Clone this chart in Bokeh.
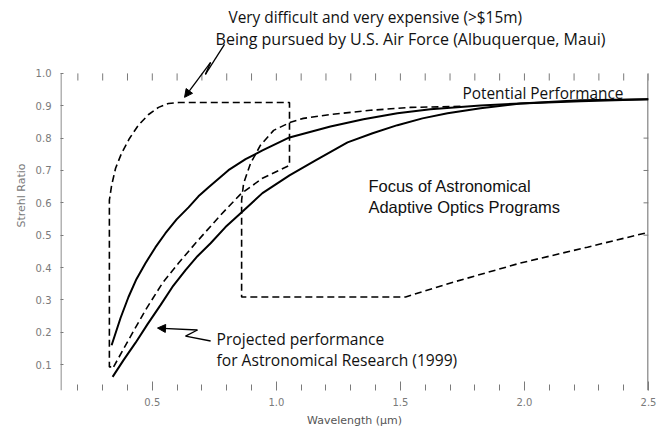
from bokeh.plotting import figure
from bokeh.models import FixedTicker, Label, Arrow, NormalHead, Range1d
from bokeh.embed import file_html
from bokeh.resources import INLINE

# ---- data (wavelength in micrometres, Strehl ratio) ----
potential_wl = [0.336, 0.372, 0.404, 0.436, 0.473, 0.513, 0.553, 0.598, 0.646, 0.686,
                0.727, 0.807, 0.876, 0.944, 1.053, 1.218, 1.351, 1.488, 1.621, 1.823,
                1.984, 2.226, 2.5]
potential_sr = [0.160, 0.244, 0.309, 0.364, 0.414, 0.463, 0.506, 0.549, 0.586, 0.620,
                0.648, 0.701, 0.735, 0.762, 0.802, 0.836, 0.858, 0.877, 0.889, 0.901,
                0.907, 0.914, 0.920]

projected_wl = [0.340, 0.384, 0.432, 0.481, 0.533, 0.581, 0.634, 0.682, 0.735, 0.795,
                0.856, 0.944, 1.053, 1.158, 1.287, 1.388, 1.488, 1.589, 1.690, 1.823,
                1.984, 2.226, 2.5]
projected_sr = [0.062, 0.114, 0.167, 0.225, 0.284, 0.340, 0.392, 0.435, 0.475, 0.525,
                0.568, 0.630, 0.685, 0.731, 0.787, 0.815, 0.840, 0.861, 0.877, 0.892,
                0.907, 0.917, 0.920]

# region: very difficult / very expensive (closed dashed outline)
expensive_wl = [0.344, 0.404, 0.473, 0.541, 0.606, 0.674, 0.775, 0.856, 0.944, 1.053,
                1.053, 0.606, 0.565, 0.525, 0.485, 0.444, 0.408, 0.376, 0.352, 0.336,
                0.327, 0.327, 0.344]
expensive_sr = [0.093, 0.176, 0.269, 0.352, 0.414, 0.475, 0.562, 0.627, 0.676, 0.716,
                0.910, 0.910, 0.907, 0.895, 0.873, 0.840, 0.799, 0.753, 0.707, 0.654,
                0.608, 0.093, 0.093]

# region: focus of astronomical adaptive optics programs (dashed outline)
focus_wl = [1.742, 1.541, 1.379, 1.218, 1.109, 1.057, 0.989, 0.936, 0.896, 0.868,
            0.860, 0.860, 1.521, 1.714, 1.984, 2.254, 2.5]
focus_sr = [0.898, 0.895, 0.886, 0.873, 0.861, 0.849, 0.824, 0.778, 0.722, 0.660,
            0.608, 0.309, 0.309, 0.355, 0.414, 0.463, 0.509]

x_major = [0.5, 1.0, 1.5, 2.0, 2.5]
x_labels = ["0.5", "1.0", "1.5", "2.0", "2.5"]
x_minor = [0.2, 0.3, 0.4, 0.6, 0.7, 0.8, 0.9, 1.1, 1.2, 1.3, 1.4, 1.6, 1.7, 1.8, 1.9,
           2.1, 2.2, 2.3, 2.4]
y_ticks = [0.1, 0.2, 0.3, 0.4, 0.5, 0.6, 0.7, 0.8, 0.9, 1.0]
y_labels = ["0.1", "0.2", "0.3", "0.4", "0.5", "0.6", "0.7", "0.8", "0.9", "1.0"]
right_ticks = [0.5, 0.6, 0.7, 0.8]

# ---- layout / style ----
X0, X1 = 0.13, 2.5          # wavelength axis extent
Y0, YTOP = 0.02, 1.0        # Strehl axis extent
Y_VIEW_TOP = 1.2253         # room above the axis for the annotation
GRAY = "#7a7a7a"
HAND = "Open Sans"

p = figure(width=658, height=432, x_range=Range1d(X0, X1), y_range=Range1d(Y0, Y_VIEW_TOP),
           output_backend="svg", toolbar_location=None,
           min_border_left=60, min_border_right=10, min_border_top=0, min_border_bottom=42)
p.grid.visible = False
p.outline_line_color = None
p.background_fill_color = "white"
p.border_fill_color = "white"

# bottom axis
xa = p.xaxis[0]
xa.ticker = FixedTicker(ticks=x_major, minor_ticks=x_minor)
xa.major_label_overrides = dict(zip(x_major, x_labels))
xa.axis_line_color = None
xa.major_tick_in = 9
xa.major_tick_out = 0
xa.minor_tick_in = 6
xa.minor_tick_out = 0
xa.major_tick_line_color = GRAY
xa.minor_tick_line_color = GRAY
xa.major_label_standoff = 7
xa.major_label_text_font_size = "10px"
xa.major_label_text_color = GRAY
xa.major_label_text_font = "DejaVu Sans"
xa.axis_label = "Wavelength (\u00b5m)"
xa.axis_label_text_font_size = "11px"
xa.axis_label_text_font_style = "normal"
xa.axis_label_text_color = "#555555"
xa.axis_label_text_font = "DejaVu Sans"
xa.axis_label_standoff = 5

# left axis
ya = p.yaxis[0]
ya.ticker = FixedTicker(ticks=y_ticks, minor_ticks=[])
ya.major_label_overrides = dict(zip(y_ticks, y_labels))
ya.axis_line_color = None
ya.major_tick_in = 3
ya.major_tick_out = 0
ya.major_tick_line_color = GRAY
ya.major_label_standoff = 9
ya.major_label_text_font_size = "10px"
ya.major_label_text_color = GRAY
ya.major_label_text_font = "DejaVu Sans"
ya.axis_label = "Strehl Ratio"
ya.axis_label_text_font_size = "11px"
ya.axis_label_text_font_style = "normal"
ya.axis_label_text_color = GRAY
ya.axis_label_text_font = "DejaVu Sans"
ya.axis_label_standoff = 5

# frame lines and ticks (left, right, top)
TOP_TICK = 0.022
RIGHT_TICK = 0.02
p.segment(x0=[X0 + 0.002], y0=[Y0], x1=[X0 + 0.002], y1=[YTOP], line_color="#999999", line_width=1.5)
p.segment(x0=[X1 - 0.002], y0=[Y0], x1=[X1 - 0.002], y1=[YTOP], line_color=GRAY, line_width=1.5)
top_ticks = x_minor + x_major
p.segment(x0=top_ticks, y0=[YTOP] * len(top_ticks), x1=top_ticks,
          y1=[YTOP - TOP_TICK] * len(top_ticks), line_color=GRAY, line_width=1)
p.segment(x0=[X1] * len(right_ticks), y0=right_ticks, x1=[X1 - RIGHT_TICK] * len(right_ticks),
          y1=right_ticks, line_color=GRAY, line_width=1)

# curves
p.line(potential_wl, potential_sr, line_color="black", line_width=2)
p.line(projected_wl, projected_sr, line_color="black", line_width=2)
p.line(expensive_wl, expensive_sr, line_color="black", line_width=1.6, line_dash="7 4")
p.line(focus_wl, focus_sr, line_color="black", line_width=1.6, line_dash="7 4")

# annotations
def lab(x, y, t, size, font=HAND, color="#111111"):
    p.add_layout(Label(x=x, y=y, text=t, text_font=font, text_font_size=size,
                       text_color=color, text_baseline="middle", text_align="left"))

lab(0.807, 1.173, "Very difficult and very expensive (>$15m)", "15.4px")
lab(0.755, 1.106, "Being pursued by U.S. Air Force (Albuquerque, Maui)", "16px")
lab(1.750, 0.938, "Potential Performance", "15.4px")
lab(1.371, 0.651, "Focus of Astronomical", "16.5px", font="Liberation Sans")
lab(1.371, 0.586, "Adaptive Optics Programs", "16.5px", font="Liberation Sans")
lab(0.759, 0.179, "Projected performance", "15.6px")
lab(0.759, 0.114, "for Astronomical Research (1999)", "15.6px")

# zig-zag pointers
top_ptr = [(0.791, 1.090), (0.714, 0.997), (0.735, 1.034), (0.630, 0.926)]
low_ptr = [(0.735, 0.173), (0.634, 0.188), (0.682, 0.207), (0.521, 0.213)]
for ptr in (top_ptr, low_ptr):
    for i in range(len(ptr) - 1):
        (xa0, ya0), (xa1, ya1) = ptr[i], ptr[i + 1]
        head = NormalHead(size=8, fill_color="black", line_color="black") if i == len(ptr) - 2 else None
        p.add_layout(Arrow(x_start=xa0, y_start=ya0, x_end=xa1, y_end=ya1, end=head,
                           line_color="black", line_width=1.3))

open("out.html", "w").write(file_html(p, INLINE))
